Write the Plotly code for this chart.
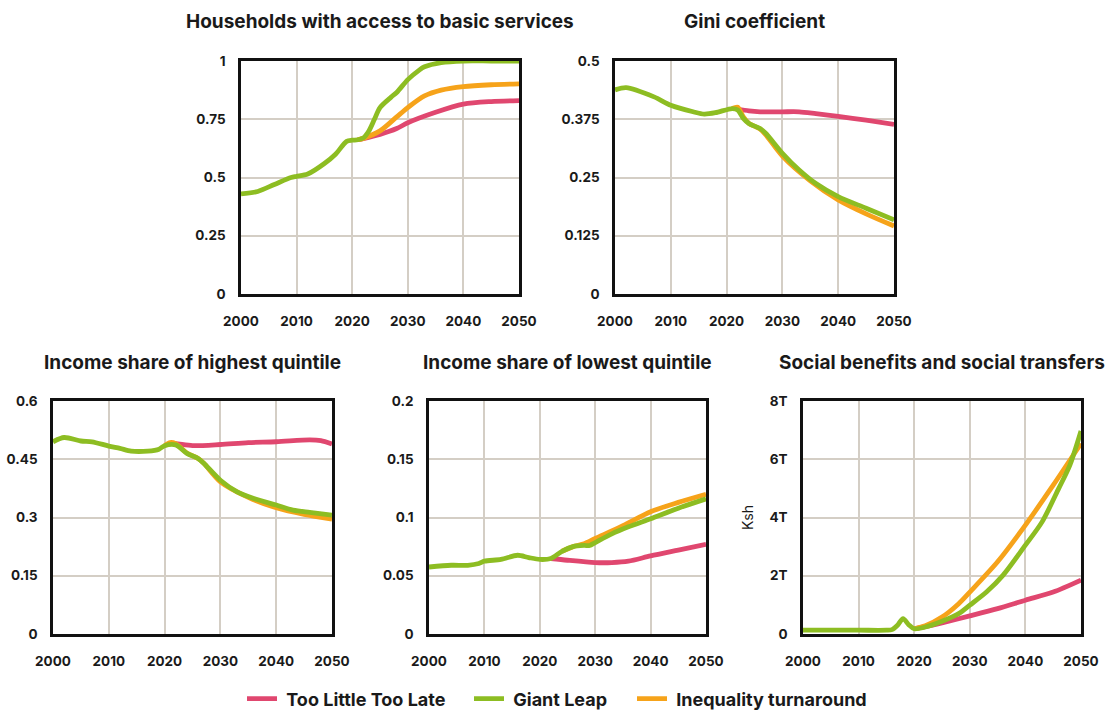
import plotly.graph_objects as go

# ---------------- data ----------------
# 1. Households with access to basic services
hh_gl_years = [2000, 2003, 2006, 2009, 2010, 2012, 2015, 2017, 2019, 2020, 2021, 2022, 2023, 2024, 2025, 2027, 2028, 2030, 2032, 2033, 2036, 2040, 2045, 2050]
hh_gl = [0.43, 0.44, 0.47, 0.50, 0.505, 0.515, 0.56, 0.60, 0.655, 0.66, 0.662, 0.67, 0.70, 0.75, 0.80, 0.845, 0.865, 0.92, 0.96, 0.975, 0.993, 1.0, 1.0, 1.0]
hh_tl_years = [2021, 2022, 2025, 2028, 2030, 2035, 2040, 2045, 2050]
hh_tl = [0.662, 0.667, 0.685, 0.71, 0.735, 0.78, 0.815, 0.826, 0.83]
hh_it_years = [2021, 2022, 2025, 2028, 2030, 2033, 2036, 2040, 2045, 2050]
hh_it = [0.662, 0.668, 0.70, 0.76, 0.80, 0.85, 0.875, 0.89, 0.898, 0.902]

# 2. Gini coefficient
gini_gl_years = [2000, 2002, 2007, 2010, 2014, 2016, 2018, 2021, 2022, 2023, 2024, 2026, 2027, 2030, 2033, 2036, 2040, 2045, 2050]
gini_gl = [0.438, 0.443, 0.423, 0.405, 0.391, 0.386, 0.389, 0.398, 0.395, 0.377, 0.366, 0.355, 0.345, 0.302, 0.266, 0.237, 0.209, 0.184, 0.159]
gini_it_years = [2021, 2022, 2023, 2024, 2026, 2027, 2030, 2035, 2040, 2045, 2050]
gini_it = [0.398, 0.401, 0.38, 0.366, 0.354, 0.342, 0.296, 0.243, 0.202, 0.172, 0.146]
gini_tl_years = [2022, 2024, 2026, 2030, 2033, 2036, 2040, 2045, 2050]
gini_tl = [0.397, 0.393, 0.391, 0.391, 0.391, 0.387, 0.381, 0.373, 0.364]

# 3. Income share of highest quintile
hq_gl_years = [2000, 2002, 2005, 2007, 2010, 2012, 2014, 2017, 2019, 2020, 2022, 2024, 2026, 2027, 2030, 2033, 2036, 2040, 2043, 2046, 2050]
hq_gl = [0.495, 0.506, 0.497, 0.495, 0.484, 0.478, 0.471, 0.471, 0.476, 0.485, 0.487, 0.465, 0.452, 0.44, 0.396, 0.366, 0.349, 0.332, 0.319, 0.313, 0.306]
hq_it_years = [2020, 2021, 2022, 2024, 2026, 2027, 2030, 2035, 2040, 2045, 2050]
hq_it = [0.485, 0.493, 0.49, 0.466, 0.452, 0.44, 0.392, 0.352, 0.325, 0.308, 0.296]
hq_tl_years = [2021, 2022, 2025, 2030, 2035, 2040, 2046, 2048, 2050]
hq_tl = [0.49, 0.49, 0.485, 0.488, 0.493, 0.495, 0.5, 0.498, 0.489]

# 4. Income share of lowest quintile
lq_gl_years = [2000, 2004, 2007, 2009, 2010, 2013, 2016, 2018, 2020, 2022, 2024, 2026, 2028, 2029, 2030, 2033, 2036, 2040, 2045, 2050]
lq_gl = [0.0575, 0.059, 0.059, 0.0605, 0.0625, 0.064, 0.0676, 0.0656, 0.064, 0.0648, 0.071, 0.075, 0.076, 0.076, 0.0785, 0.086, 0.092, 0.099, 0.108, 0.116]
lq_it_years = [2024, 2026, 2028, 2030, 2035, 2040, 2045, 2050]
lq_it = [0.071, 0.075, 0.0775, 0.082, 0.093, 0.105, 0.113, 0.12]
lq_tl_years = [2022, 2025, 2030, 2033, 2036, 2040, 2045, 2050]
lq_tl = [0.0648, 0.0633, 0.0613, 0.0613, 0.0625, 0.067, 0.072, 0.077]

# 5. Social benefits and social transfers (trillion Ksh)
sb_gl_years = [2000, 2010, 2015, 2016, 2017, 2018, 2019, 2020, 2022, 2025, 2028, 2030, 2033, 2036, 2040, 2043, 2046, 2048, 2050]
sb_gl = [0.13, 0.13, 0.13, 0.15, 0.3, 0.53, 0.32, 0.18, 0.24, 0.44, 0.7, 0.99, 1.44, 2.02, 3.05, 3.85, 5.0, 5.8, 6.97]
sb_it_years = [2020, 2022, 2025, 2028, 2030, 2035, 2040, 2045, 2050]
sb_it = [0.18, 0.28, 0.58, 1.04, 1.44, 2.48, 3.74, 5.11, 6.54]
sb_tl_years = [2020, 2022, 2025, 2030, 2035, 2040, 2045, 2050]
sb_tl = [0.18, 0.25, 0.38, 0.62, 0.87, 1.16, 1.44, 1.85]

titles = ["Households with access to basic services", "Gini coefficient",
          "Income share of highest quintile", "Income share of lowest quintile",
          "Social benefits and social transfers"]
x_ticks = [2000, 2010, 2020, 2030, 2040, 2050]
y_ticks = [
    ([0, 0.25, 0.5, 0.75, 1], ["0", "0.25", "0.5", "0.75", "1"]),
    ([0, 0.125, 0.25, 0.375, 0.5], ["0", "0.125", "0.25", "0.375", "0.5"]),
    ([0, 0.15, 0.3, 0.45, 0.6], ["0", "0.15", "0.3", "0.45", "0.6"]),
    ([0, 0.05, 0.1, 0.15, 0.2], ["0", "0.05", "0.1", "0.15", "0.2"]),
    ([0, 2, 4, 6, 8], ["0", "2T", "4T", "6T", "8T"]),
]

series = [
    (hh_tl_years, hh_tl, hh_it_years, hh_it, hh_gl_years, hh_gl),
    (gini_tl_years, gini_tl, gini_it_years, gini_it, gini_gl_years, gini_gl),
    (hq_tl_years, hq_tl, hq_it_years, hq_it, hq_gl_years, hq_gl),
    (lq_tl_years, lq_tl, lq_it_years, lq_it, lq_gl_years, lq_gl),
    (sb_tl_years, sb_tl, sb_it_years, sb_it, sb_gl_years, sb_gl),
]

PINK = "#e0476f"
GREEN = "#8dbd22"
ORANGE = "#f6a31a"
NB = "\u00a0"
names = ["Too Little Too Late", "Inequality turnaround", "Giant Leap"]
colors = [PINK, ORANGE, GREEN]
legend_ids = ["legend", "legend3", "legend2"]
legend_left_px = {"legend": 242, "legend2": 469, "legend3": 632}

W, H = 1107, 710
# plot areas in pixels: (left, right, top, bottom)
boxes = [
    (241, 519, 61, 294),
    (615, 894, 61, 294),
    (53, 332, 401, 634),
    (429, 706, 401, 634),
    (803, 1081, 401, 634),
]

FONT = "Inter, Liberation Sans, Arial, sans-serif"
fig = go.Figure()
layout = {}
annotations = []
for i, (box, s) in enumerate(zip(boxes, series)):
    l, r, t, b = box
    ax = "" if i == 0 else str(i + 1)
    for k in range(3):
        fig.add_trace(go.Scatter(
            x=s[2 * k], y=s[2 * k + 1], mode="lines",
            line=dict(color=colors[k], width=4.8, shape="spline", smoothing=0.8),
            name=NB + names[k], legendgroup=names[k], showlegend=(i == 0),
            legend=legend_ids[k],
            xaxis="x" + ax, yaxis="y" + ax, hoverinfo="skip"))
    tv, tt = y_ticks[i]
    layout["xaxis" + ax] = dict(
        domain=[l / W, r / W], anchor="y" + ax, range=[2000, 2050],
        tickvals=x_ticks, ticktext=[str(v) for v in x_ticks],
        showgrid=True, gridcolor="#d4cec5", gridwidth=1.5,
        showline=True, linecolor="#111111", linewidth=2.5, mirror=True,
        zeroline=False, ticks="", ticklabelstandoff=13, automargin=False,
        tickfont=dict(family=FONT, size=13.5, weight="bold", color="#1a1a1a"))
    layout["yaxis" + ax] = dict(
        domain=[1 - b / H, 1 - t / H], anchor="x" + ax, range=[tv[0], tv[-1]],
        tickvals=tv, ticktext=tt,
        showgrid=True, gridcolor="#d4cec5", gridwidth=1.5,
        showline=True, linecolor="#111111", linewidth=2.5, mirror=True,
        zeroline=False, ticks="", ticklabelstandoff=10, automargin=False,
        tickfont=dict(family=FONT, size=13.5, weight="bold", color="#1a1a1a"))
    annotations.append(dict(
        text=titles[i], xref="paper", yref="paper",
        x=(l + r) / 2 / W, y=1 - (t - 39) / H, xanchor="center", yanchor="middle",
        showarrow=False, font=dict(family=FONT, size=19, weight="bold", color="#1a1a1a")))

layout["yaxis5"]["title"] = dict(text="Ksh", standoff=13,
                                 font=dict(family=FONT, size=14, color="#1a1a1a"))

for lid, px in legend_left_px.items():
    layout[lid] = dict(orientation="h", x=px / W, xanchor="left", y=-0.0105, yanchor="bottom",
                       font=dict(family=FONT, size=18, weight="bold", color="#1a1a1a"),
                       itemwidth=30, bgcolor="rgba(0,0,0,0)")

fig.update_layout(
    **layout,
    annotations=annotations,
    template="none",
    width=W, height=H,
    margin=dict(l=0, r=0, t=0, b=0, autoexpand=False),
    paper_bgcolor="white", plot_bgcolor="white",
    showlegend=True,
)

fig.write_html("out.html", config={"displayModeBar": False},
               post_script="document.body.style.margin='0';document.body.style.overflow='hidden';")
